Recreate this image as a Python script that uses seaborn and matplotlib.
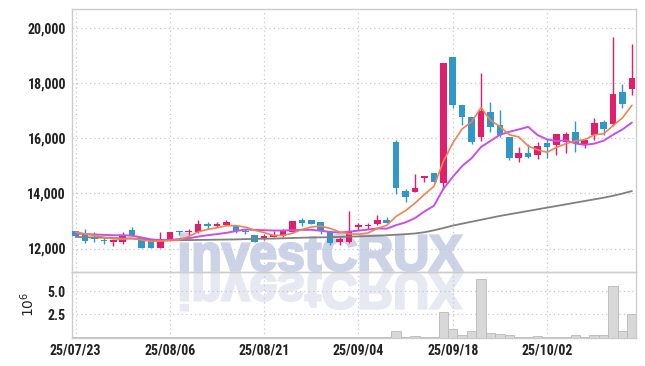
import numpy as np
import pandas as pd
import matplotlib
matplotlib.use("Agg")
import matplotlib.pyplot as plt
import seaborn as sns
from matplotlib import font_manager as fm
from matplotlib.textpath import TextPath
from matplotlib.patches import PathPatch
from matplotlib.transforms import Affine2D, IdentityTransform
from matplotlib.font_manager import FontProperties

# daily OHLC (KRW), 60 trading days from 25/07/23
opens = [12630, 12540, 12370, 12300, 12240, 12220, 12660, 12300, 12330, 12020,
         12360, 12630, 12580, 12580, 12830, 12830, 12840, 12810, 12630, 12480,
         12340, 12420, 12450, 12580, 13020, 13020, 12950, 12590, 12250, 12240,
         12780, 12800, 12900, 13020, 15840, 14070, 14050, 14550, 14750, 14380,
         18930, 17190, 16770, 16040, 16950, 16460, 16020, 15280, 15450, 15380,
         15820, 15740, 15860, 16210, 15740, 16100, 16570, 16490, 17660, 17790]
highs = [12650, 12720, 12580, 12390, 12300, 12580, 12780, 12300, 12330, 12580,
         12580, 12630, 12720, 13020, 12960, 12960, 13020, 12810, 12720, 12480,
         12540, 12620, 12720, 12990, 13090, 13020, 12950, 12590, 12420, 13360,
         12930, 12930, 13200, 13150, 15920, 14170, 14680, 14640, 14750, 18700,
         18930, 17190, 16770, 18370, 17310, 17010, 16020, 15680, 15800, 15840,
         15980, 16140, 16220, 16610, 15980, 16730, 16640, 19660, 17940, 19420]
lows = [12440, 12200, 12240, 12180, 12080, 12180, 12480, 12020, 12020, 12020,
        12360, 12480, 12480, 12560, 12720, 12780, 12840, 12570, 12520, 12240,
        12300, 12400, 12400, 12580, 12800, 12880, 12520, 12120, 12120, 12200,
        12660, 12720, 12840, 12930, 13990, 13690, 14050, 14390, 14390, 14170,
        17090, 16460, 15800, 15900, 16220, 16040, 15200, 15140, 15280, 15230,
        15280, 15380, 15470, 15500, 15640, 15920, 16100, 16450, 17070, 17570]
closes = [12460, 12280, 12330, 12260, 12300, 12480, 12480, 12020, 12020, 12360,
          12580, 12580, 12620, 12870, 12810, 12870, 12960, 12640, 12590, 12240,
          12450, 12460, 12620, 12990, 12930, 12880, 12640, 12200, 12340, 12590,
          12830, 12840, 13020, 12930, 14200, 13870, 14200, 14590, 14390, 18700,
          17210, 16770, 15850, 16970, 16400, 16100, 15280, 15450, 15320, 15700,
          15680, 16140, 16140, 15820, 15920, 16550, 16340, 17610, 17240, 18180]

# volume in millions of shares
volume = [0.02, 0.02, 0.01, 0.01, 0.02, 0.02, 0.03, 0.02, 0.02, 0.02,
          0.01, 0.01, 0.02, 0.03, 0.02, 0.02, 0.02, 0.02, 0.01, 0.02,
          0.01, 0.01, 0.02, 0.03, 0.02, 0.02, 0.02, 0.03, 0.02, 0.08,
          0.02, 0.02, 0.03, 0.02, 0.73, 0.06, 0.12, 0.06, 0.03, 2.75,
          0.95, 0.22, 0.66, 6.35, 0.48, 0.37, 0.22, 0.06, 0.06, 0.12,
          0.06, 0.05, 0.05, 0.22, 0.05, 0.22, 0.22, 5.50, 0.66, 2.50]

# moving average lines as drawn
ma5 = [12600, 12530, 12470, 12410, 12350, 12340, 12370, 12310, 12260, 12272,
       12292, 12312, 12432, 12602, 12692, 12750, 12826, 12830, 12774, 12660,
       12576, 12476, 12472, 12552, 12690, 12776, 12812, 12728, 12598, 12530,
       12520, 12560, 12724, 12842, 13164, 13372, 13644, 13958, 14250, 15150,
       15818, 16332, 16584, 17100, 16640, 16418, 16120, 16040, 15710, 15570,
       15486, 15658, 15796, 15896, 15940, 16114, 16154, 16448, 16732, 17184]
ma10 = [12543, 12525, 12507, 12496, 12481, 12481, 12463, 12400, 12330, 12299,
        12311, 12341, 12370, 12431, 12482, 12521, 12569, 12631, 12688, 12676,
        12663, 12651, 12651, 12663, 12675, 12676, 12644, 12600, 12575, 12610,
        12648, 12686, 12726, 12720, 12847, 12946, 13102, 13341, 13546, 14157,
        14595, 14988, 15271, 15675, 15895, 16118, 16226, 16312, 16405, 16105,
        15952, 15889, 15918, 15803, 15752, 15797, 15903, 16119, 16312, 16560]
ma_long = [12420, 12410, 12400, 12390, 12380, 12370, 12360, 12340, 12320, 12305,
           12300, 12300, 12305, 12310, 12315, 12320, 12325, 12330, 12340, 12350,
           12355, 12360, 12370, 12380, 12390, 12400, 12405, 12410, 12420, 12430,
           12440, 12450, 12465, 12480, 12500, 12520, 12545, 12590, 12660, 12740,
           12830, 12900, 12970, 13040, 13110, 13180, 13240, 13300, 13360, 13420,
           13480, 13540, 13600, 13660, 13720, 13780, 13840, 13910, 13990, 14080]

tick_pos = [0, 10, 20, 30, 40, 50]
tick_labels = ["25/07/23", "25/08/06", "25/08/21", "25/09/04", "25/09/18", "25/10/02"]
price_ticks = [12000, 14000, 16000, 18000, 20000]
vol_ticks = [2.5, 5.0]

UP = "#e31c6b"
DOWN = "#3197c9"
GRID = "#c3c6dc"
EDGE = "#cccccc"

sns.set_style("white")
names = {f.name for f in fm.fontManager.ttflist}
label_font = "DejaVu Sans"
for cand in ["Roboto Condensed", "Liberation Sans Narrow", "DejaVu Sans Condensed"]:
    if cand in names:
        label_font = cand
        break
plt.rcParams["font.family"] = [label_font, "DejaVu Sans"]

df = pd.DataFrame({"open": opens, "high": highs, "low": lows, "close": closes,
                   "volume": volume, "ma5": ma5, "ma10": ma10, "ma_long": ma_long})
df["idx"] = np.arange(len(df))
df["color"] = np.where(df["close"] >= df["open"], UP, DOWN)
df["body_lo"] = df[["open", "close"]].min(axis=1)
df["body_h"] = (df["close"] - df["open"]).abs().clip(lower=60)

fig = plt.figure(figsize=(6.45, 3.66), dpi=100)
fig.patch.set_facecolor("white")
ax = fig.add_axes([71.5 / 645, 1 - 272 / 366, (635.7 - 71.5) / 645, (272 - 9.3) / 366])
axv = fig.add_axes([71.5 / 645, 1 - 337.5 / 366, (635.7 - 71.5) / 645, (337.5 - 272) / 366],
                   sharex=ax)
for a in (ax, axv):
    a.set_facecolor("none")
    for s in a.spines.values():
        s.set_color(EDGE)
        s.set_linewidth(1.0)
    a.grid(True, linestyle=(0, (1, 2.5)), color=GRID, linewidth=0.9)
    a.tick_params(length=0, labelsize=10, labelcolor="#222222", pad=4)

# watermark with reflection, behind the axes
tp = TextPath((0, 0), "investCRUX", size=1, prop=FontProperties(family="Liberation Sans", weight="bold"))
ext = tp.get_extents()
sx = 281 / ext.width
sy = 37 / 0.729
x0 = 181 - ext.x0 * sx
base = 366 - 270.5
wm = PathPatch(tp, transform=Affine2D().scale(sx, sy).translate(x0, base) + IdentityTransform(),
               facecolor="#cdd3e6", edgecolor="#cdd3e6", linewidth=1.8, zorder=-2)
wm_ref = PathPatch(tp, transform=Affine2D().scale(sx, -sy).translate(x0, base - 3) + IdentityTransform(),
                   facecolor="#e6e9f2", edgecolor="#e6e9f2", linewidth=1.8, zorder=-2)
fig.add_artist(wm)
fig.add_artist(wm_ref)

# candles
ax.vlines(df["idx"], df["low"], df["high"], colors=df["color"], linewidth=1.0, zorder=2)
ax.bar(df["idx"], df["body_h"], bottom=df["body_lo"], width=0.7, color=df["color"],
       linewidth=0, zorder=3)

sns.lineplot(data=df, x="idx", y="ma_long", ax=ax, color="#808080", linewidth=1.3, zorder=4)
sns.lineplot(data=df, x="idx", y="ma10", ax=ax, color="#c94fe6", linewidth=1.4, zorder=5)
sns.lineplot(data=df, x="idx", y="ma5", ax=ax, color="#ef8452", linewidth=1.2, zorder=6)

ax.set_xlim(-0.43, 59.4)
ax.set_ylim(11150, 20660)
ax.set_yticks(price_ticks)
ax.set_yticklabels([f"{v:,}" for v in price_ticks], fontweight="bold")
ax.set_xticks(tick_pos)
ax.tick_params(axis="x", labelbottom=False)
ax.set_xlabel("")
ax.set_ylabel("")

axv.bar(df["idx"], df["volume"], width=1.0, color="#d8d8d8", edgecolor="#b8b8b8",
        linewidth=0.6, zorder=2)
axv.set_ylim(0, 7.05)
axv.set_yticks(vol_ticks)
axv.set_yticklabels([f"{v:.1f}" for v in vol_ticks], fontweight="bold")
axv.set_xticks(tick_pos)
axv.set_xticklabels(tick_labels, fontweight="bold")
axv.set_ylabel(r"$10^6$", fontsize=10, color="#222222", labelpad=8)

fig.savefig("out.png", dpi=100, facecolor="white")
